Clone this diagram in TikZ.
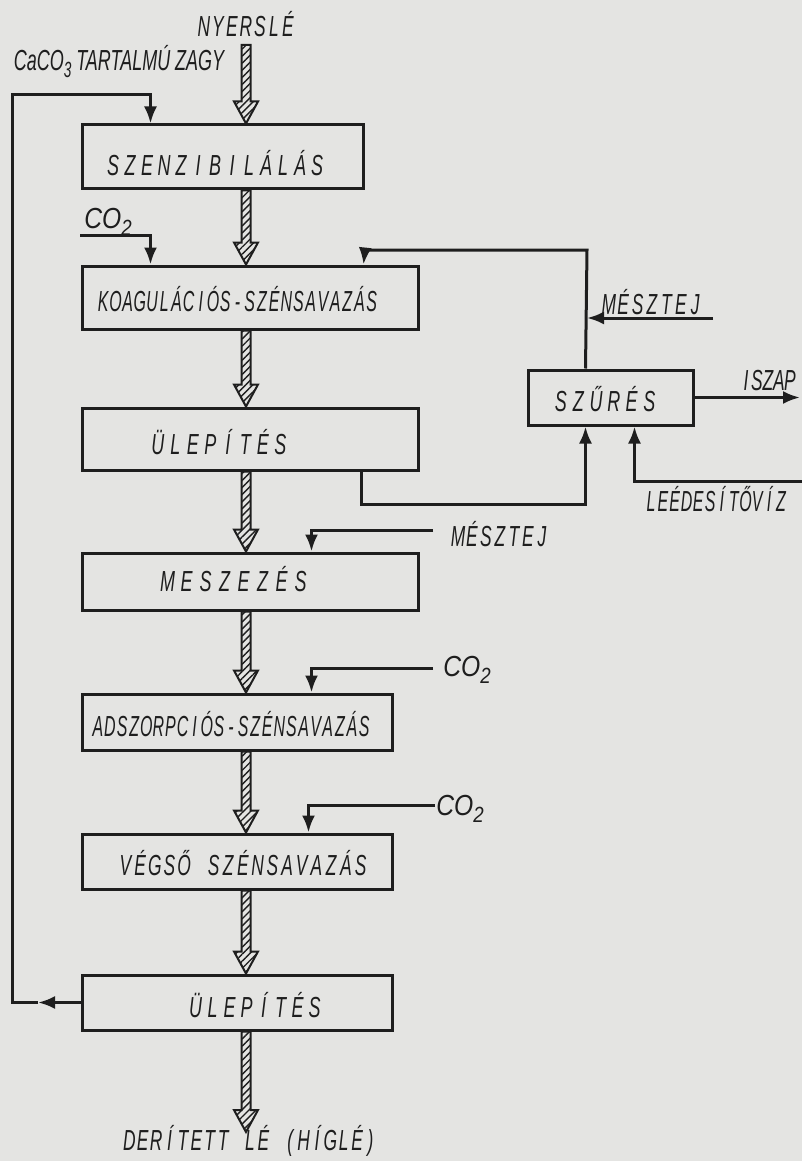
\documentclass[tikz,border=0pt]{standalone}
\usepackage{fontspec}
\setmainfont{Liberation Sans}
\usepackage{graphicx}
\usetikzlibrary{arrows.meta,patterns.meta,calc}
\definecolor{paper}{RGB}{228,228,226}
\definecolor{ink}{RGB}{30,30,30}
\makeatletter
% hand-lettered look: every character in a cell of fixed pitch, narrowed
\newcommand\lettered[3]{\@tfor\@ch:=#3\do{\makebox[#1pt]{\scalebox{#2}[1]{\@ch}}}}
\makeatother
\newcommand\subtwo[1]{\raisebox{-7pt}{\fontsize{22}{22}\selectfont #1}}
% wide hatched flow arrow between two points
\newcommand\flowarrow[2]{%
  \path[flow] let \p1=#1, \p2=#2 in
    (\x1-4.5pt,\y1) -- (\x1-4.5pt,\y2+22pt) -- (\x1-12pt,\y2+22pt) -- (\x1,\y2)
    -- (\x1+12pt,\y2+22pt) -- (\x1+4.5pt,\y2+22pt) -- (\x1+4.5pt,\y1) -- cycle;}
\tikzset{
  box/.style={draw=ink, line width=3pt, inner sep=0pt},
  title/.style={text=ink, font=\fontsize{29}{31}\selectfont\itshape, inner sep=0pt},
  conn/.style={draw=ink, line width=3pt},
  tip/.style={-{Latex[length=17pt,width=13pt]}},
  flow/.style={draw=ink, line width=2pt, line join=miter,
    pattern={Lines[angle=45,distance=5pt,line width=1.4pt]}, pattern color=ink},
}
\begin{document}
\begin{tikzpicture}[x=1pt,y=-1pt]
\fill[paper] (0,0) rectangle (802,1161);
\useasboundingbox (0,0) rectangle (802,1161);
\coordinate (col) at (246,0);

% process boxes
\node[box, minimum width=281, minimum height=64] (szenz) at (222.5,157) {};
\node[box, minimum width=336, minimum height=63] (koag) at (250,297.5) {};
\node[box, minimum width=336, minimum height=62] (ulep1) at (250,439) {};
\node[box, minimum width=336, minimum height=57] (mesz) at (250,581.5) {};
\node[box, minimum width=310, minimum height=56] (adsz) at (237,722) {};
\node[box, minimum width=310, minimum height=55] (vegso) at (237,861.5) {};
\node[box, minimum width=310, minimum height=55] (ulep2) at (237,1002.5) {};
\node[box, minimum width=165, minimum height=55] (szures) at (610.5,397.5) {};

% box titles
\node[title] (tszenz) at (215,163) {\lettered{17}{0.62}{SZENZIBILÁLÁS}};
\node[title] (tkoag) at (237.5,299) {\lettered{12.2}{0.55}{KOAGULÁCIÓS-SZÉNSAVAZÁS}};
\node[title] (tulep1) at (219,442) {\lettered{17.5}{0.62}{ÜLEPÍTÉS}};
\node[title] (tmesz) at (234,579) {\lettered{19}{0.62}{MESZEZÉS}};
\node[title] (tadsz) at (231,724) {\lettered{12.1}{0.55}{ADSZORPCIÓS-SZÉNSAVAZÁS}};
\node[title] (tvegso) at (243,863) {\lettered{14.7}{0.6}{VÉGSŐ~SZÉNSAVAZÁS}};
\node[title] (tulep2) at (255,1005) {\lettered{17}{0.62}{ÜLEPÍTÉS}};
\node[title] (tszures) at (605,399) {\lettered{17.7}{0.62}{SZŰRÉS}};

% stream labels
\node[title] (lnyers) at (246,24) {\lettered{14}{0.6}{NYERSLÉ}};
\node[title] (lcaco) at (119,62) {\scalebox{0.62}[1]{CaCO\subtwo{3} TARTALMÚ ZAGY}};
\node[title] (lco2a) at (108,222) {\scalebox{0.85}[1]{CO\subtwo{2}}};
\node[title] (lmesz1) at (652,302) {\lettered{14.4}{0.6}{MÉSZTEJ}};
\node[title] (liszap) at (768,381) {\lettered{11}{0.6}{ISZAP}};
\node[title] (lleed) at (716,499) {\lettered{11.8}{0.55}{LEÉDESÍTŐVÍZ}};
\node[title] (lmesz2) at (500,534) {\lettered{14}{0.6}{MÉSZTEJ}};
\node[title] (lco2b) at (467,670) {\scalebox{0.85}[1]{CO\subtwo{2}}};
\node[title] (lco2c) at (460,809) {\scalebox{0.85}[1]{CO\subtwo{2}}};
\node[title] (lout) at (250,1141) {\lettered{13.4}{0.6}{DERÍTETT~LÉ~(HÍGLÉ)}};

% main juice stream
\coordinate (in) at (246,45);
\coordinate (out) at (246,1132);
\flowarrow{(in)}{(szenz.north -| col)}
\flowarrow{(szenz.south -| col)}{(koag.north -| col)}
\flowarrow{(koag.south -| col)}{(ulep1.north -| col)}
\flowarrow{(ulep1.south -| col)}{(mesz.north -| col)}
\flowarrow{(mesz.south -| col)}{(adsz.north -| col)}
\flowarrow{(adsz.south -| col)}{(vegso.north -| col)}
\flowarrow{(vegso.south -| col)}{(ulep2.north -| col)}
\flowarrow{(ulep2.south -| col)}{(out)}

% sludge recycle loop
\coordinate (lp1) at (38,1002.5);
\coordinate (loopbl) at (12,1002.5);
\coordinate (looptl) at (12,95);
\draw[conn,tip] (ulep2.west) -- (lp1);
\draw[conn,tip] (lp1) -- (loopbl) -- (looptl) -| ($(szenz.north west)+(70,0)$);

% side streams
\coordinate (co2a) at (80,235);
\draw[conn,tip] (co2a) -| ($(koag.north west)+(70,0)$);

\coordinate (rc1) at (365,250);
\coordinate (rc2) at (587,250);
\draw[conn,tip] ($(szures.north west)+(59,0)$) -- (rc2) -- (rc1) -- ($(koag.north west)+(283,0)$);

\coordinate (mt) at (713,318);
\draw[conn,tip] (mt) -- (mt -| rc2);

\coordinate (isz) at (800,397.5);
\draw[conn,tip] (szures.east) -- (isz);

\coordinate (lv) at (802,481);
\draw[conn,tip] (lv) -| ($(szures.south west)+(108,0)$);

\draw[conn,tip] ($(ulep1.south west)+(281,0)$) |- ($(szures.south west)+(59,78)$) -- ($(szures.south west)+(59,0)$);

\coordinate (m2) at (433,530);
\draw[conn,tip] (m2) -| ($(mesz.north west)+(231,0)$);

\coordinate (c2) at (433,668);
\draw[conn,tip] (c2) -| ($(adsz.north west)+(231,0)$);

\coordinate (c3) at (435,805);
\draw[conn,tip] (c3) -| ($(vegso.north west)+(228,0)$);
\end{tikzpicture}
\end{document}
